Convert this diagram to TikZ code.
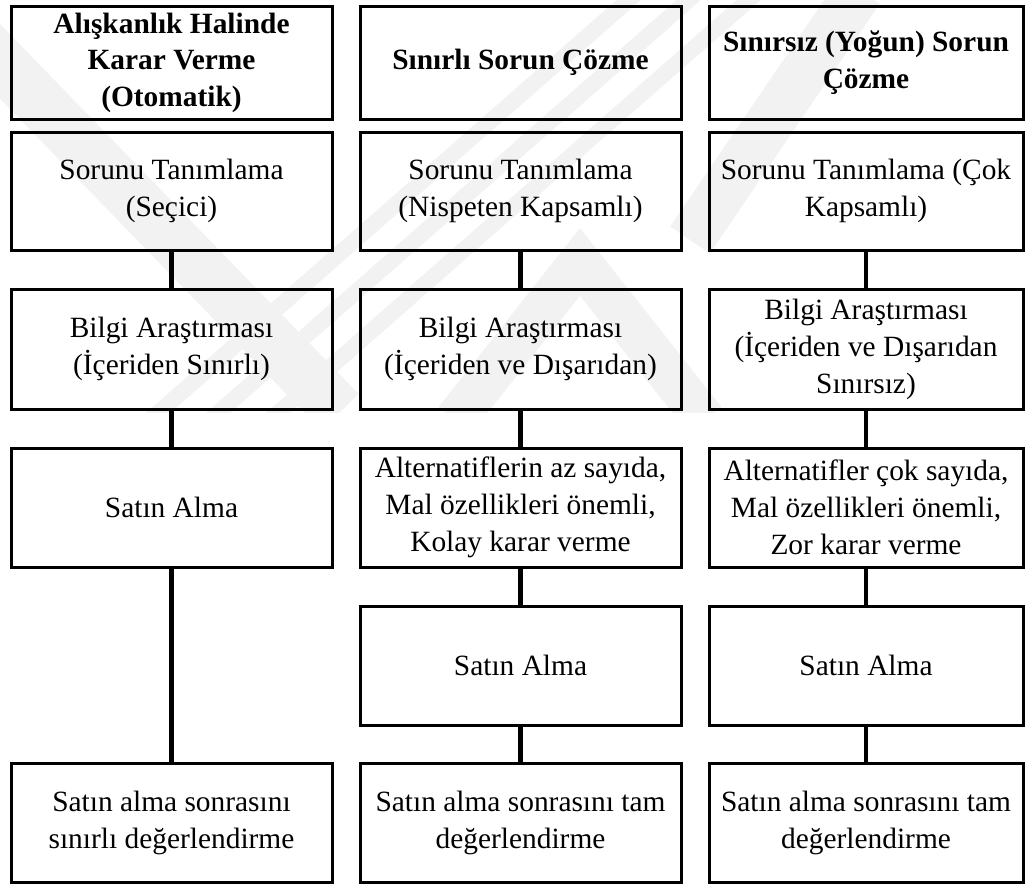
\documentclass[tikz,border=0pt]{standalone}
\usepackage{fontspec}
\setmainfont{Liberation Serif}
\begin{document}
\begin{tikzpicture}[x=1pt,y=-1pt,
  box/.style={draw=black, line width=3pt, fill=none, align=center, inner sep=0pt,
    font=\fontsize{29.4}{37}\selectfont},
  headbox/.style={box, font=\fontsize{29.4}{36.5}\selectfont\bfseries},
  colA/.style={minimum width=321pt},
  colC/.style={minimum width=314pt},
  conn/.style={draw=black, line width=4.5pt},
  wm/.style={draw=black!5, line cap=butt}]
\useasboundingbox (0,0) rectangle (1027,884);

% faint background emblem
\begin{scope}
  \clip (0,0) rectangle (1027,412);
  \draw[wm, line width=52pt] (-40,20) -- (340,412);
  \draw[wm, line width=16pt] (640,-10) -- (150,420);
  \draw[wm, line width=16pt] (700,-10) -- (210,420);
  \draw[wm, line width=16pt] (760,-10) -- (270,420);
  \draw[wm, line width=42pt] (455,420) -- (580,262) -- (705,420);
  \draw[wm, line width=48pt] (860,-10) -- (690,240);
\end{scope}

% column 1
\node[headbox, colA, minimum height=113pt] (a1) at (171.5,62.5)
  {Alışkanlık Halinde\\Karar Verme\\(Otomatik)};
\node[box, colA, minimum height=118pt] (a2) at (171.5,191)
  {Sorunu Tanımlama\\(Seçici)};
\node[box, colA, minimum height=120pt] (a3) at (171.5,349)
  {Bilgi Araştırması\\(İçeriden Sınırlı)};
\node[box, colA, minimum height=119pt] (a4) at (171.5,507.5)
  {Satın Alma};
\node[box, colA, minimum height=119pt] (a6) at (171.5,822.5)
  {Satın alma sonrasını\\sınırlı değerlendirme};

% column 2
\node[headbox, colA, minimum height=113pt] (b1) at (520.5,62.5)
  {Sınırlı Sorun Çözme};
\node[box, colA, minimum height=118pt] (b2) at (520.5,191)
  {Sorunu Tanımlama\\(Nispeten Kapsamlı)};
\node[box, colA, minimum height=120pt] (b3) at (520.5,349)
  {Bilgi Araştırması\\(İçeriden ve Dışarıdan)};
\node[box, colA, minimum height=119pt] (b4) at (520.5,507.5)
  {Alternatiflerin az sayıda,\\Mal özellikleri önemli,\\Kolay karar verme};
\node[box, colA, minimum height=119pt] (b5) at (520.5,665.5)
  {Satın Alma};
\node[box, colA, minimum height=119pt] (b6) at (520.5,822.5)
  {Satın alma sonrasını tam\\değerlendirme};

% column 3
\node[headbox, colC, minimum height=113pt] (c1) at (866,62.5)
  {Sınırsız (Yoğun) Sorun\\Çözme};
\node[box, colC, minimum height=118pt] (c2) at (866,191)
  {Sorunu Tanımlama (Çok\\Kapsamlı)};
\node[box, colC, minimum height=120pt] (c3) at (866,349)
  {Bilgi Araştırması\\(İçeriden ve Dışarıdan\\Sınırsız)};
\node[box, colC, minimum height=119pt] (c4) at (866,507.5)
  {Alternatifler çok sayıda,\\Mal özellikleri önemli,\\Zor karar verme};
\node[box, colC, minimum height=119pt] (c5) at (866,665.5)
  {Satın Alma};
\node[box, colC, minimum height=119pt] (c6) at (866,822.5)
  {Satın alma sonrasını tam\\değerlendirme};

% connectors
\draw[conn] (a2.south) -- (a3.north);
\draw[conn] (a3.south) -- (a4.north);
\draw[conn] (a4.south) -- (a6.north);
\draw[conn] (b2.south) -- (b3.north);
\draw[conn] (b3.south) -- (b4.north);
\draw[conn] (b4.south) -- (b5.north);
\draw[conn] (b5.south) -- (b6.north);
\draw[conn] (c2.south) -- (c3.north);
\draw[conn] (c3.south) -- (c4.north);
\draw[conn] (c4.south) -- (c5.north);
\draw[conn] (c5.south) -- (c6.north);
\end{tikzpicture}
\end{document}
